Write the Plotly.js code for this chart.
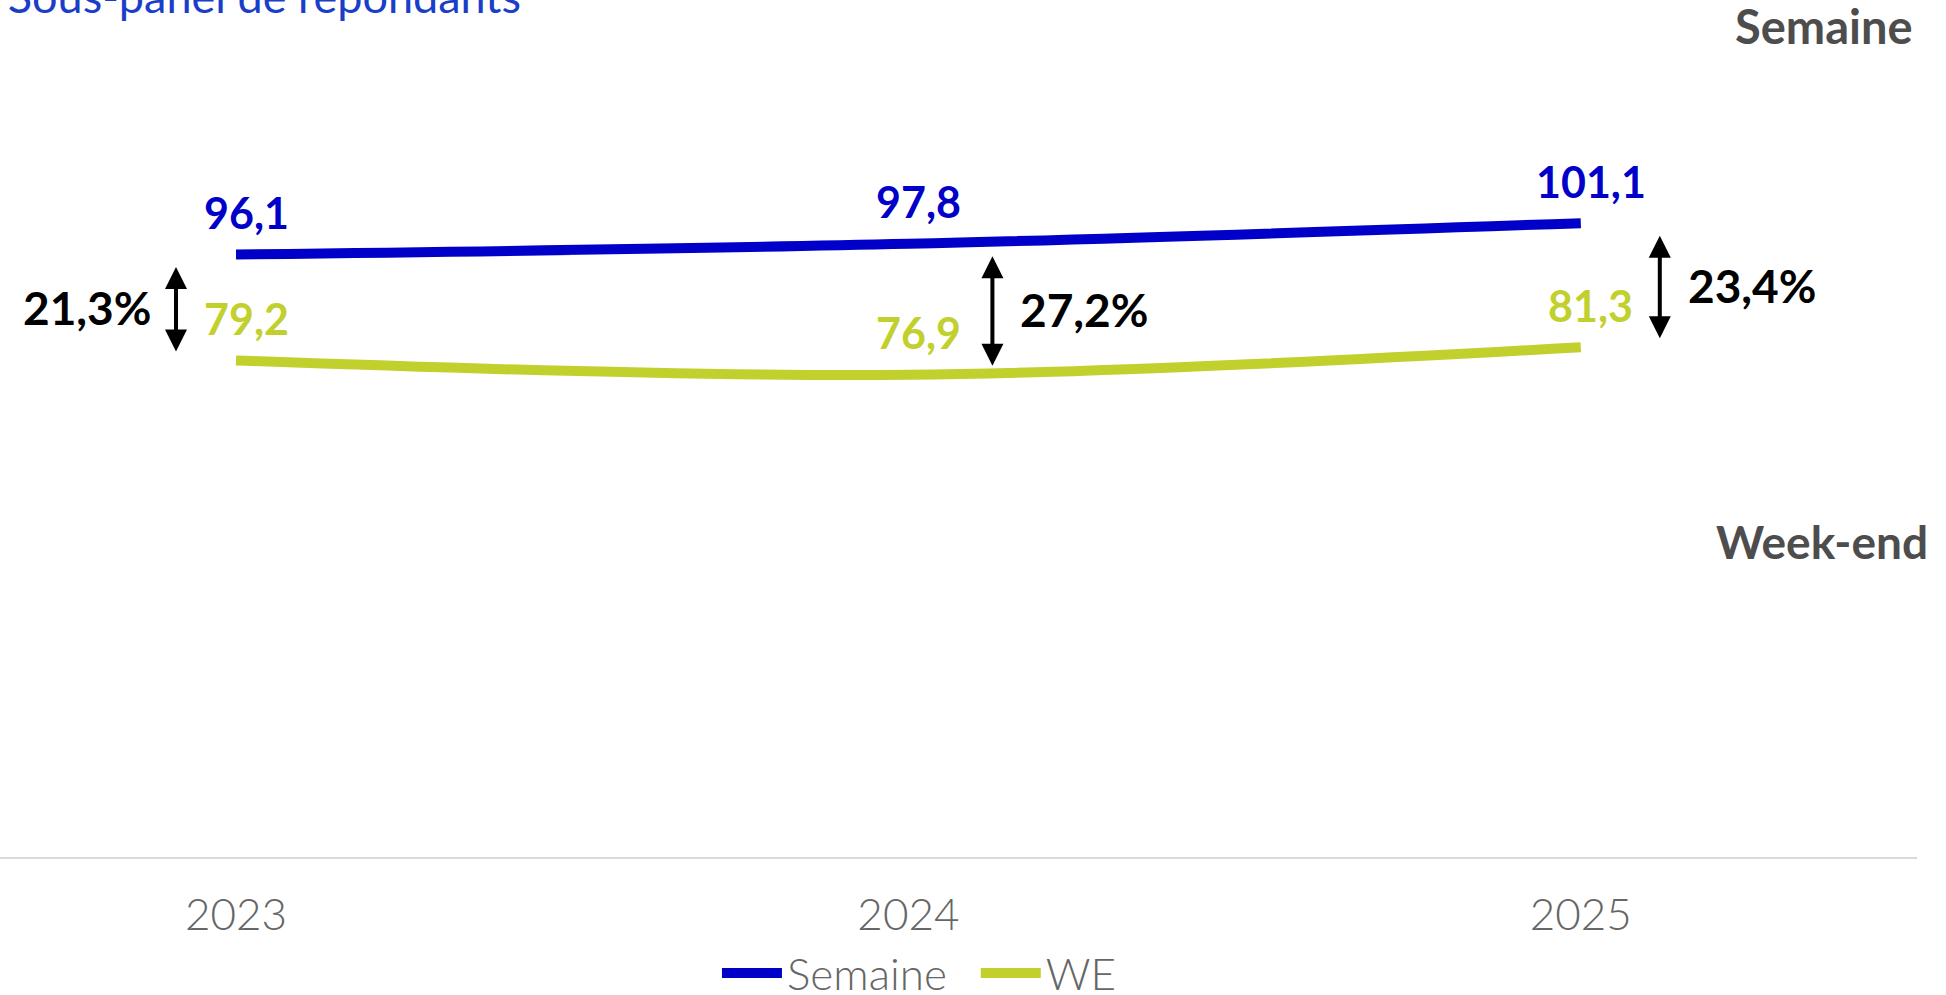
<!DOCTYPE html>
<html>
<head>
<meta charset="utf-8">
<script src="https://cdn.plot.ly/plotly-3.0.1.min.js"></script>
<style>
  html, body { margin: 0; padding: 0; background: #ffffff; }
  #chart { width: 1946px; height: 995px; }
</style>
</head>
<body>
<div id="chart"></div>
<script>
// ---- data ----
const years = ['2023', '2024', '2025'];
const semaineValues = [96.1, 97.8, 101.1];
const weValues = [79.2, 76.9, 81.3];
const gapLabels = ['21,3%', '27,2%', '23,4%'];
const seriesNames = ['Semaine', 'WE'];
const chartTitle = 'Sous-panel de répondants';
const sideLabels = ['Semaine', 'Week-end'];

// ---- style ----
const BLUE = '#0000c8';
const GREEN = '#c2d02d';
const FONT = 'Lato, "Open Sans", sans-serif';
const arrowShift = [-60, 84, 79];          // px offset of gap arrows from category
const gapLabelSide = ['right', 'left', 'left'];
const gapLabelGap = 22;

const fmt = v => v.toFixed(1).replace('.', ',');

const traces = [
  {
    x: years, y: semaineValues, name: seriesNames[0] + '&nbsp;&nbsp;', type: 'scatter', mode: 'lines',
    line: { color: BLUE, width: 10, shape: 'spline', smoothing: 1 },
    hoverinfo: 'x+y'
  },
  {
    x: years, y: weValues, name: seriesNames[1], type: 'scatter', mode: 'lines',
    line: { color: GREEN, width: 10, shape: 'spline', smoothing: 1 },
    hoverinfo: 'x+y'
  }
];

const annotations = [];
years.forEach((yr, i) => {
  annotations.push({
    x: i, y: semaineValues[i], xref: 'x', yref: 'y', text: fmt(semaineValues[i]),
    showarrow: false, xanchor: 'center', yanchor: 'middle', xshift: 10, yshift: 42,
    font: { family: FONT, size: 43, color: BLUE, weight: 700 }
  });
  annotations.push({
    x: i, y: weValues[i], xref: 'x', yref: 'y', text: fmt(weValues[i]),
    showarrow: false, xanchor: 'center', yanchor: 'middle', xshift: 10, yshift: 42,
    font: { family: FONT, size: 43, color: GREEN, weight: 700 }
  });
  annotations.push({
    x: i, y: weValues[i], xref: 'x', yref: 'y',
    ax: i, ay: semaineValues[i], axref: 'x', ayref: 'y',
    text: '', showarrow: true, arrowside: 'end+start',
    arrowhead: 2, startarrowhead: 2, arrowsize: 1.1, startarrowsize: 1.1,
    arrowwidth: 4, arrowcolor: '#000000', standoff: 9, startstandoff: 11,
    xshift: arrowShift[i]
  });
  const side = gapLabelSide[i];
  annotations.push({
    x: i, y: (semaineValues[i] + weValues[i]) / 2, xref: 'x', yref: 'y',
    text: gapLabels[i], showarrow: false,
    xanchor: side, yanchor: 'middle',
    xshift: arrowShift[i] + (side === 'right' ? -gapLabelGap : gapLabelGap + 4),
    font: { family: FONT, size: 46, color: '#000000', weight: 700 }
  });
});

annotations.push({
  xref: 'paper', yref: 'paper', x: 0.999, y: 0.993, xanchor: 'right', yanchor: 'middle',
  text: sideLabels[0], showarrow: false,
  font: { family: FONT, size: 47, color: '#4d4d4d', weight: 700 }
});
annotations.push({
  xref: 'paper', yref: 'paper', x: 1.007, y: 0.377, xanchor: 'right', yanchor: 'middle',
  text: sideLabels[1], showarrow: false,
  font: { family: FONT, size: 46, color: '#4d4d4d', weight: 700 }
});

const layout = {
  width: 1946, height: 995,
  paper_bgcolor: '#ffffff', plot_bgcolor: '#ffffff',
  margin: { l: 0, r: 29, t: 20, b: 138, autoexpand: false },
  font: { family: FONT, color: '#666666' },
  title: {
    text: chartTitle, xref: 'container', yref: 'container',
    x: 0.004, xanchor: 'left', y: 0.987, yanchor: 'bottom',
    font: { family: FONT, size: 45, color: '#1a3ec8', weight: 400 }
  },
  xaxis: {
    type: 'category', range: [-0.351, 2.5],
    showgrid: false, zeroline: false,
    showline: true, linecolor: '#d9d9d9', linewidth: 2,
    ticks: '', ticklabelstandoff: 18,
    tickfont: { family: FONT, size: 44, color: '#666666', weight: 300 },
    fixedrange: true
  },
  yaxis: {
    range: [0, 133.5], visible: false, showgrid: false, zeroline: false, fixedrange: true
  },
  showlegend: true,
  legend: {
    orientation: 'h', x: 0.374, xanchor: 'left', y: -0.139, yanchor: 'middle',
    font: { family: FONT, size: 44, color: '#666666', weight: 300 },
    itemwidth: 60, bgcolor: 'rgba(0,0,0,0)'
  },
  annotations: annotations
};

Plotly.newPlot('chart', traces, layout, { displayModeBar: false, staticPlot: true });
</script>
</body>
</html>
